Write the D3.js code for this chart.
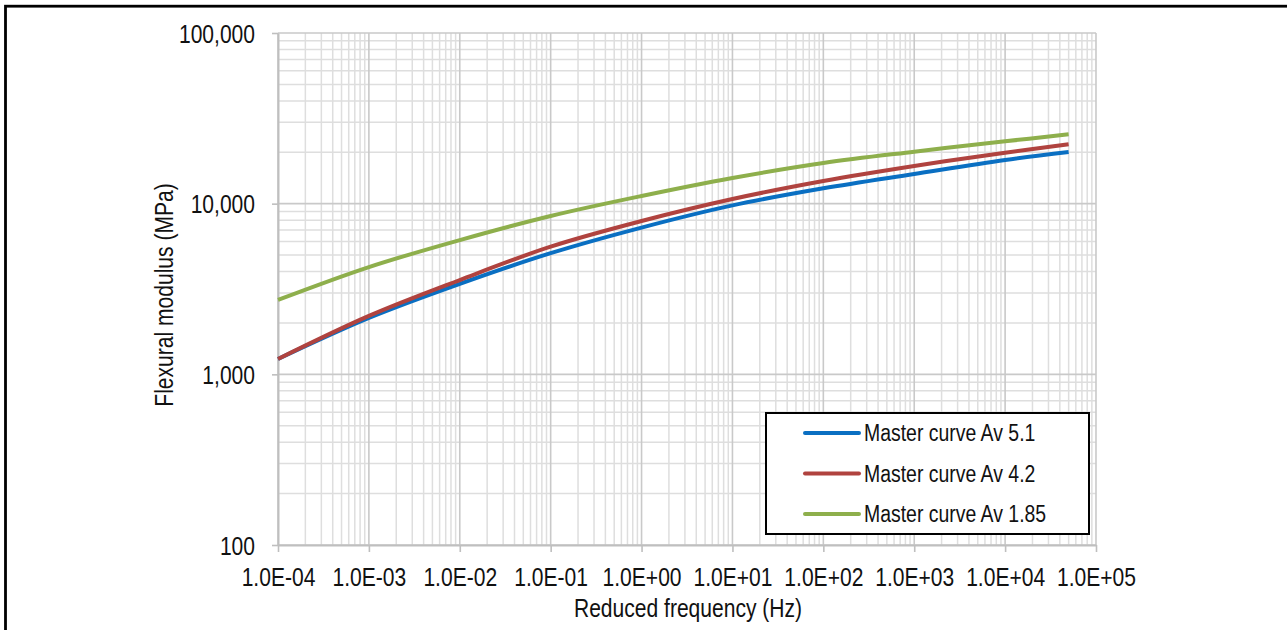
<!DOCTYPE html>
<html>
<head>
<meta charset="utf-8">
<script src="https://cdn.jsdelivr.net/npm/d3@7/dist/d3.min.js"></script>
<style>
  html, body { margin: 0; padding: 0; background: #ffffff; }
  svg { display: block; font-family: "Liberation Sans", Arial, sans-serif; }
</style>
</head>
<body>
<svg id="chart" width="1287" height="630"></svg>
<script>
// Reduced frequency (Hz) at which each master curve is sampled
const frequency = [1e-4, 1e-3, 1e-2, 1e-1, 1e0, 1e1, 1e2, 1e3, 1e4, 5e4];

// Flexural modulus (MPa) for each master curve
const av51  = [1230, 2140, 3388, 5129, 7244, 9772, 12303, 14928, 18030, 20090];
const av42  = [1230, 2200, 3570, 5600, 7915, 10650, 13580, 16630, 19900, 22300];
const av185 = [2728, 4250, 6120, 8470, 11090, 14140, 17310, 20160, 23190, 25500];

const seriesNames  = ["Master curve Av 5.1", "Master curve Av 4.2", "Master curve Av 1.85"];
const seriesColors = ["#0a6fc2", "#b0433f", "#8eaf4c"];

// Axis ticks
const xTickValues = [1e-4, 1e-3, 1e-2, 1e-1, 1e0, 1e1, 1e2, 1e3, 1e4, 1e5];
const yTickValues = [100, 1000, 10000, 100000];

const svg = d3.select("#chart");
const NARROW = 0.81; // condensed type

// Outer frame
svg.append("rect")
  .attr("x", 5.5).attr("y", 6.2)
  .attr("width", 1400).attr("height", 800)
  .attr("fill", "none").attr("stroke", "#000").attr("stroke-width", 2.8);

const x = d3.scaleLog().domain([1e-4, 1e5]).range([278, 1096]);
const y = d3.scaleLog().domain([100, 1e5]).range([545, 33]);

// Minor and major gridlines (1..9 within each decade)
function decadeValues(lo, hi) {
  const out = [];
  for (let e = Math.round(Math.log10(lo)); e < Math.round(Math.log10(hi)); e++) {
    for (let m = 1; m <= 9; m++) out.push(m * Math.pow(10, e));
  }
  out.push(hi);
  return out;
}
const isMajor = v => Math.abs(Math.log10(v) - Math.round(Math.log10(v))) < 1e-9;

const grid = svg.append("g");
const xv = decadeValues(1e-4, 1e5);
const yv = decadeValues(100, 1e5);

// minor first, major on top
grid.selectAll("line.xminor").data(xv.filter(v => !isMajor(v))).join("line")
  .attr("x1", d => x(d)).attr("x2", d => x(d))
  .attr("y1", y.range()[0]).attr("y2", y.range()[1])
  .attr("stroke", "#dedede").attr("stroke-width", 1.5);
grid.selectAll("line.yminor").data(yv.filter(v => !isMajor(v))).join("line")
  .attr("y1", d => y(d)).attr("y2", d => y(d))
  .attr("x1", x.range()[0]).attr("x2", x.range()[1])
  .attr("stroke", "#dedede").attr("stroke-width", 1.5);
grid.selectAll("line.xmajor").data(xv.filter(isMajor)).join("line")
  .attr("x1", d => x(d)).attr("x2", d => x(d))
  .attr("y1", y.range()[0]).attr("y2", y.range()[1])
  .attr("stroke", "#c9c9c9").attr("stroke-width", 1.6);
grid.selectAll("line.ymajor").data(yv.filter(isMajor)).join("line")
  .attr("y1", d => y(d)).attr("y2", d => y(d))
  .attr("x1", x.range()[0]).attr("x2", x.range()[1])
  .attr("stroke", "#c9c9c9").attr("stroke-width", 1.6);

// Axes
const fmtSci = v => {
  const e = Math.round(Math.log10(v));
  return "1.0E" + (e < 0 ? "-" : "+") + String(Math.abs(e)).padStart(2, "0");
};
const fmtY = d3.format(",");

const xAxis = svg.append("g")
  .attr("transform", `translate(0,${y.range()[0]})`)
  .call(d3.axisBottom(x).tickValues(xTickValues).tickFormat(fmtSci).tickSize(7).tickSizeOuter(0));
const yAxis = svg.append("g")
  .attr("transform", `translate(${x.range()[0]},0)`)
  .call(d3.axisLeft(y).tickValues(yTickValues).tickFormat(fmtY).tickSize(6).tickSizeOuter(0));

[xAxis, yAxis].forEach(a => {
  a.select(".domain").attr("stroke", "#bfbfbf").attr("stroke-width", 2);
  a.selectAll(".tick line").attr("stroke", "#bfbfbf").attr("stroke-width", 1.6);
  a.selectAll(".tick text")
    .attr("fill", "#111").style("font-size", "26px")
    .style("font-family", "'Liberation Sans', Arial, sans-serif");
});
xAxis.selectAll(".tick text")
  .attr("y", 41).attr("dy", null)
  .attr("transform", `scale(${NARROW},1)`);
yAxis.selectAll(".tick text")
  .attr("x", -23 / NARROW).attr("dy", "0.35em")
  .attr("transform", `scale(${NARROW},1)`);

// Axis titles
function narrowText(px, py, str, size, anchor, rotate) {
  return svg.append("text")
    .attr("transform", `translate(${px},${py})` + (rotate ? ` rotate(${rotate})` : "") + ` scale(${NARROW},1)`)
    .attr("text-anchor", anchor)
    .attr("fill", "#111")
    .style("font-size", size + "px")
    .text(str);
}
narrowText(688, 617, "Reduced frequency (Hz)", 26, "middle");
narrowText(173, 295, "Flexural modulus (MPa)", 26, "middle", -90);

// Master curves
const allSeries = [av51, av42, av185];
const line = d3.line()
  .x((d, i) => x(frequency[i]))
  .y(d => y(d))
  .curve(d3.curveCatmullRom.alpha(0.5));

svg.append("g").selectAll("path").data(allSeries).join("path")
  .attr("d", d => line(d))
  .attr("fill", "none")
  .attr("stroke", (d, i) => seriesColors[i])
  .attr("stroke-width", 4)
  .attr("stroke-linejoin", "round");

// Legend
const legend = svg.append("g");
legend.append("rect")
  .attr("x", 766).attr("y", 413).attr("width", 323).attr("height", 121)
  .attr("fill", "#fff").attr("stroke", "#000").attr("stroke-width", 2);
seriesNames.forEach((name, i) => {
  const ly = 433 + i * 40.5;
  legend.append("line")
    .attr("x1", 805).attr("x2", 859).attr("y1", ly).attr("y2", ly)
    .attr("stroke", seriesColors[i]).attr("stroke-width", 4).attr("stroke-linecap", "round");
  legend.append("text")
    .attr("transform", `translate(864,${ly + 8}) scale(${NARROW},1)`)
    .attr("fill", "#111").style("font-size", "24px")
    .text(name);
});
</script>
</body>
</html>
